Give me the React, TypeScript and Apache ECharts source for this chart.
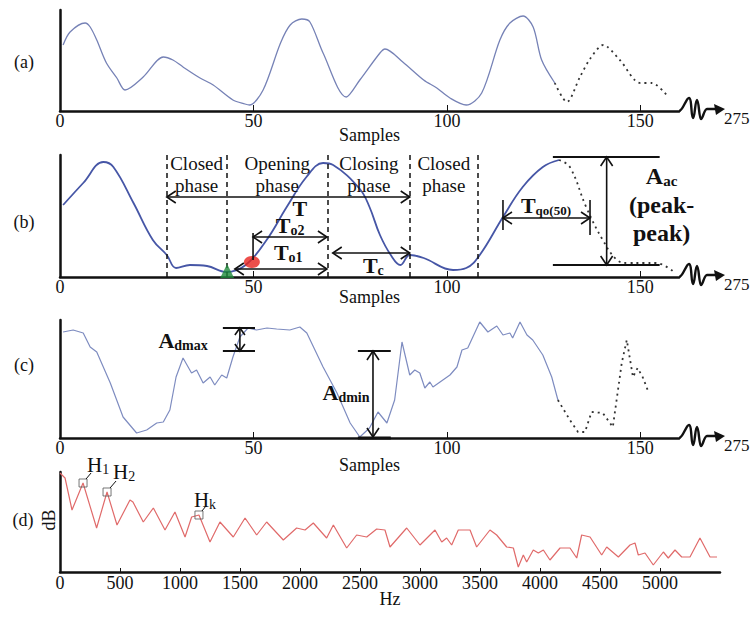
import React, { useEffect, useRef } from "react";
import * as echarts from "echarts";

const SERIF = "'Liberation Serif','Times New Roman',serif";
const INK = "#111";

// ---- Panel (a): speech waveform (samples, amplitude) ----
const aSolid: number[][] = [
  [0.8, 66], [2.6, 79], [6.5, 88], [7.8, 84], [9.5, 71], [12, 48], [14.7, 33], [16.8, 21],
  [21.5, 34], [26.7, 54], [29.2, 51], [31.8, 44], [36.2, 33], [39.6, 26], [44.7, 11], [47.8, 7],
  [49, 6], [52.5, 21], [57, 68], [59.5, 86], [62.5, 92], [64.6, 89], [68, 58], [74, 14],
  [77.5, 31], [82.7, 58], [84, 62], [88.6, 49], [94, 31], [97.4, 23], [100.8, 13], [105, 6],
  [109, 18], [113.7, 71], [116.3, 88], [119.7, 95], [122.3, 84], [124.5, 51], [127.9, 28],
];
const aDotted: number[][] = [
  [127.9, 28], [131, 9], [134.4, 34], [137, 52], [140.4, 66], [144.7, 51], [150, 28], [153, 28], [156.8, 16],
];

// ---- Panel (b): glottal flow ----
const bSolid: number[][] = [
  [0.8, 72], [6, 94], [11.2, 115], [13.8, 110], [19, 74], [24, 37], [27.6, 22], [30, 9],
  [33.6, 12], [38, 11], [43, 5], [48, 12], [53.4, 37], [58.6, 70], [63.7, 100], [68, 114],
  [70.6, 112], [77.5, 88], [80, 70], [82.7, 42], [85.5, 22], [88, 12], [90.4, 22], [94, 19],
  [101.6, 7], [105, 9], [108.5, 22], [114.5, 60], [119.6, 90], [124.8, 110], [129, 117],
];
const bDotted: number[][] = [
  [129, 117], [131.8, 110], [136, 70], [140.3, 37], [144, 17], [147, 14], [151, 14], [154, 14], [159, 4],
];
const phaseBoundaries = [27.6, 43, 69.3, 90.4, 108];
const phaseNames = ["Closed\nphase", "Opening\nphase", "Closing\nphase", "Closed\nphase"];
const openingOnset: number[][] = [[43.2, 6]];
const openingInstant: number[][] = [[49.6, 15]];

// ---- Panel (c): glottal flow derivative ----
const cSolid: number[][] = [
  [0.8, 106], [3.4, 108], [6, 105], [7.8, 91], [9.5, 86], [13, 55], [16.3, 21], [19.8, 5],
  [22.4, 8], [25, 15], [26.7, 16], [28.4, 28], [30, 61], [31.8, 80], [34, 65], [35.3, 68],
  [37, 55], [38.8, 61], [40, 53], [41.8, 63], [43.1, 60], [44.7, 81], [46.5, 101], [48.6, 110],
  [50.8, 108], [53.5, 110], [56, 109], [59.4, 108], [62, 111], [63.8, 105], [68, 71], [71.6, 45],
  [75, 15], [77.5, 1], [80, 10], [82.2, 26], [84.5, 15], [86.5, 38], [88.4, 96], [90.4, 63],
  [91.7, 68], [93, 65], [94.3, 50], [95.6, 56], [96.4, 51], [100.8, 63], [102.6, 71], [103.9, 88],
  [105.4, 90], [108.5, 116], [110.6, 106], [112.9, 112], [114.5, 103], [116.3, 105], [117, 100],
  [118.9, 116], [120.7, 103], [122.2, 98], [124.8, 83], [127.1, 61], [128.7, 38],
];
const cDotted: number[][] = [
  [128.7, 38], [131.8, 18], [133.9, 6], [135.7, 6], [137.4, 26], [140.3, 25], [142.9, 11],
  [145.2, 75], [146.5, 98], [148.1, 61], [149.3, 70], [150.6, 61], [151.9, 48],
];

// ---- Panel (d): spectrum (Hz, dB) ----
const dSpectrum: number[][] = [
  [0, 99], [42, 94], [100, 62], [192, 89], [305, 44], [392, 80], [475, 47], [583, 72], [608, 70],
  [694, 50], [778, 64], [875, 42], [958, 60], [1042, 35], [1097, 55], [1158, 57], [1250, 30],
  [1333, 50], [1444, 35], [1542, 54], [1639, 37], [1722, 50], [1861, 32], [1972, 44], [2042, 42],
  [2111, 49], [2222, 34], [2278, 47], [2389, 24], [2472, 37], [2556, 35], [2639, 43], [2708, 42],
  [2750, 25], [2889, 44], [3000, 27], [3125, 42], [3181, 30], [3222, 34], [3264, 27], [3319, 42],
  [3417, 42], [3472, 25], [3583, 42], [3639, 37], [3722, 25], [3778, 24], [3819, 5], [3861, 17],
  [3889, 10], [3944, 22], [3986, 19], [4028, 22], [4083, 12], [4167, 24], [4250, 24], [4306, 14],
  [4347, 37], [4417, 35], [4514, 17], [4556, 25], [4653, 15], [4750, 27], [4792, 29], [4819, 17],
  [4875, 19], [4944, 7], [5028, 20], [5069, 14], [5125, 22], [5181, 15], [5250, 15], [5333, 34],
  [5417, 15], [5475, 15],
];
const harmonicPeaks: number[][] = [[192, 89], [392, 80], [1158, 57]];
const harmonicNames = ["1", "2", "k"];

const sampleLabels = [0, 50, 100, 150];
const sampleTicks = [50, 100, 150];
const hzLabels = [0, 500, 1000, 1500, 2000, 2500, 3000, 3500, 4000, 4500, 5000];

echarts.graphic.registerShape(
  "squiggle",
  echarts.graphic.extendPath(
    "M0,0 C4,0 7,-13 10,-13 C13,-13 12,7 14,7 C16,7 16,-11 18,-11 C20,-11 20,8 22,8 C24,8 25,-2 28,-2 L37,-2",
    {}
  )
);

function seg(p1: number[], p2: number[], w = 1.6): any {
  return { type: "line", silent: true, z: 50, shape: { x1: p1[0], y1: p1[1], x2: p2[0], y2: p2[1] }, style: { stroke: INK, lineWidth: w } };
}
function head(tip: number[], from: number[], len = 9, half = 6, w = 1.6): any {
  const dx = tip[0] - from[0], dy = tip[1] - from[1];
  const L = Math.hypot(dx, dy) || 1;
  const ux = dx / L, uy = dy / L;
  const bx = tip[0] - ux * len, by = tip[1] - uy * len;
  const nx = -uy, ny = ux;
  return {
    type: "polyline", silent: true, z: 50,
    shape: { points: [[bx + nx * half, by + ny * half], [tip[0], tip[1]], [bx - nx * half, by - ny * half]] },
    style: { stroke: INK, lineWidth: w, fill: "none" },
  };
}
function dbl(p1: number[], p2: number[], len = 9, half = 6): any[] {
  return [seg(p1, p2), head(p2, p1, len, half), head(p1, p2, len, half)];
}
function txt(x: number, y: number, text: string, extra: any = {}): any {
  const align = extra.align || "center";
  return {
    type: "text", silent: true, z: 60, x, y,
    rotation: extra.rotation || 0,
    style: {
      text, fill: INK, fontFamily: SERIF, fontSize: extra.fontSize || 18,
      fontWeight: extra.fontWeight || "normal", lineHeight: extra.lineHeight,
      align, textAlign: align, verticalAlign: "middle", textVerticalAlign: "middle",
      rich: extra.rich,
    },
  };
}
function subRich(big: number, small: number, bold: boolean, drop: number) {
  const fw = bold ? "bold" : "normal";
  return {
    m: { fontSize: big, fontWeight: fw, fontFamily: SERIF, lineHeight: big + 4, fill: INK, color: INK },
    s: { fontSize: small, fontWeight: fw, fontFamily: SERIF, lineHeight: small, padding: [drop * 2, 0, 0, 0], fill: INK, color: INK },
  };
}
function subTxt(x: number, y: number, main: string, sub: string, big: number, small: number, bold: boolean, drop: number, align = "center"): any {
  return txt(x, y, `{m|${main}}{s|${sub}}`, { rich: subRich(big, small, bold, drop), align });
}

const xSampleAxis = (gridIndex: number, gap: number): any => ({
  type: "value", gridIndex, min: 0, max: 160, interval: 50,
  name: "Samples", nameLocation: "middle", nameGap: gap, nameMoveOverlap: false,
  nameTextStyle: { fontFamily: SERIF, fontSize: 18, color: INK },
  axisLine: { show: true, onZero: false, lineStyle: { color: INK, width: 2.5 } },
  axisTick: { show: true, inside: true, length: 6, customValues: sampleTicks, lineStyle: { color: INK, width: 1 } },
  axisLabel: {
    customValues: sampleLabels, margin: 1, fontFamily: SERIF, fontSize: 18, color: INK,
    formatter: (v: number) => (v % 50 === 0 ? String(v) : ""),
  },
  splitLine: { show: false },
});
const yPlainAxis = (gridIndex: number, max: number): any => ({
  type: "value", gridIndex, min: 0, max,
  axisLine: { show: true, lineStyle: { color: INK, width: 2.5 } },
  axisTick: { show: false }, axisLabel: { show: false }, splitLine: { show: false },
});

const solid = (xi: number, data: number[][], color: string, width: number, smooth: number | boolean): any => ({
  type: "line", xAxisIndex: xi, yAxisIndex: xi, data, smooth, showSymbol: false, silent: true,
  lineStyle: { color, width },
});
const dotted = (xi: number, data: number[][], smooth: number | boolean): any => ({
  type: "line", xAxisIndex: xi, yAxisIndex: xi, data, smooth, showSymbol: false, silent: true,
  lineStyle: { color: "#333", width: 1.8, type: [2, 4] },
});

export default function App() {
  const ref = useRef<HTMLDivElement>(null);
  useEffect(() => {
    document.body.style.margin = "0";
    const chart = echarts.init(ref.current!, null, { renderer: "svg" });
    const gridBase = { containLabel: false, outerBoundsMode: "none" };
    const bBase = solid(1, bSolid, "#4656a6", 1.8, 0.4);
    bBase.markLine = {
      silent: true, symbol: "none", animation: false,
      label: { show: false },
      lineStyle: { color: INK, width: 1.5, type: [5, 4] },
      data: phaseBoundaries.map((x) => ({ xAxis: x })),
    };
    chart.setOption({
      animation: false,
      grid: [
        { ...gridBase, left: 60, top: 10, width: 619, height: 101 },
        { ...gridBase, left: 60, top: 155, width: 619, height: 122 },
        { ...gridBase, left: 60, top: 320, width: 619, height: 118 },
        { ...gridBase, left: 60, top: 472, width: 660, height: 100 },
      ],
      xAxis: [
        xSampleAxis(0, 15),
        xSampleAxis(1, 11),
        xSampleAxis(2, 18),
        {
          type: "value", gridIndex: 3, min: 0, max: 5500, interval: 500,
          name: "Hz", nameLocation: "middle", nameGap: 18, nameMoveOverlap: false,
          nameTextStyle: { fontFamily: SERIF, fontSize: 18, color: INK },
          axisLine: { show: true, onZero: false, lineStyle: { color: INK, width: 2.5 } },
          axisTick: { show: true, inside: true, length: 4, customValues: hzLabels, lineStyle: { color: INK, width: 1 } },
          axisLabel: {
            customValues: hzLabels, margin: 2, fontFamily: SERIF, fontSize: 18, color: INK,
            formatter: (v: number) => (v <= 5000 ? String(v) : ""),
          },
          splitLine: { show: false },
        },
      ],
      yAxis: [yPlainAxis(0, 101), yPlainAxis(1, 122), yPlainAxis(2, 118), yPlainAxis(3, 100)],
      series: [
        solid(0, aSolid, "#7682b6", 1.3, 0.3),
        dotted(0, aDotted, 0.3),
        bBase,
        dotted(1, bDotted, 0.4),
        {
          type: "scatter", xAxisIndex: 1, yAxisIndex: 1, data: openingOnset, symbol: "triangle",
          symbolSize: 14, itemStyle: { color: "#1e8a3a" }, silent: true, z: 5,
        },
        {
          type: "scatter", xAxisIndex: 1, yAxisIndex: 1, data: openingInstant, symbol: "circle",
          symbolSize: [16, 12], itemStyle: { color: "#e8231e" }, silent: true, z: 5,
        },
        solid(2, cSolid, "#7e8cc0", 1.2, false),
        dotted(2, cDotted, false),
        solid(3, dSpectrum, "#e06a6a", 1.2, false),
        {
          type: "scatter", xAxisIndex: 3, yAxisIndex: 3, data: harmonicPeaks, symbol: "rect",
          symbolSize: 8, itemStyle: { color: "rgba(0,0,0,0)", borderColor: "#555", borderWidth: 1 }, silent: true, z: 5,
        },
      ],
    });

    const P = (g: number, x: number, y: number) => chart.convertToPixel({ gridIndex: g } as any, [x, y]) as number[];
    const els: any[] = [];

    // panel letters
    els.push(txt(24, 62, "(a)"), txt(24, 222, "(b)"), txt(24, 365, "(c)"), txt(23, 520, "(d)"));
    els.push(txt(49, 520, "dB", { rotation: Math.PI / 2 }));

    // axis-break squiggles and "275"
    [0, 1, 2].forEach((g) => {
      const o = P(g, 160, 0);
      els.push({ type: "squiggle", silent: true, z: 50, x: o[0], y: o[1], style: { fill: "none", stroke: INK, lineWidth: 2.4 } });
      els.push({
        type: "polygon", silent: true, z: 50,
        shape: { points: [[o[0] + 35, o[1] - 7], [o[0] + 46, o[1] - 2], [o[0] + 37, o[1] + 4]] },
        style: { fill: INK },
      });
      els.push(txt(o[0] + 45, o[1] + 7, "275", { align: "left", fontSize: 17 }));
    });

    // panel (b) phase labels
    phaseNames.forEach((name, i) => {
      const cx = (phaseBoundaries[i] + phaseBoundaries[i + 1]) / 2;
      const p = P(1, cx, 103);
      els.push(txt(p[0], p[1], name, { fontSize: 19, lineHeight: 22 }));
    });
    // T
    els.push(...dbl(P(1, 27.6, 80), P(1, 90.4, 80)));
    const pT = P(1, 62, 69);
    els.push(txt(pT[0], pT[1], "T", { fontSize: 22, fontWeight: "bold" }));
    // To2
    els.push(...dbl(P(1, 49.9, 40), P(1, 69, 40)));
    els.push(seg(P(1, 49.9, 44), P(1, 49.9, 17)));
    const pTo2 = P(1, 59.5, 52);
    els.push(subTxt(pTo2[0], pTo2[1], "T", "o2", 22, 14, true, 5));
    // To1
    els.push(...dbl(P(1, 45.2, 8), P(1, 69, 8)));
    const pTo1 = P(1, 59, 25);
    els.push(subTxt(pTo1[0], pTo1[1], "T", "o1", 22, 14, true, 5));
    // Tc
    els.push(...dbl(P(1, 70.5, 24), P(1, 90.4, 24)));
    const pTc = P(1, 81, 12);
    els.push(subTxt(pTc[0], pTc[1], "T", "c", 22, 14, true, 5));
    // Tqo(50)
    els.push(...dbl(P(1, 114.5, 59), P(1, 137, 59)));
    els.push(seg(P(1, 114.5, 77), P(1, 114.5, 47)));
    els.push(seg(P(1, 137, 77), P(1, 137, 42)));
    const pTq = P(1, 125.6, 72);
    els.push(subTxt(pTq[0], pTq[1], "T", "qo(50)", 22, 13, true, 5));
    // Aac
    els.push(seg(P(1, 127.4, 120), P(1, 155, 120), 1.8));
    els.push(seg(P(1, 127.4, 12), P(1, 155, 12), 1.8));
    els.push(...dbl(P(1, 141.3, 120), P(1, 141.3, 12)));
    const pA1 = P(1, 155.5, 101);
    els.push(subTxt(pA1[0], pA1[1], "A", "ac", 24, 15, true, 5));
    const pA2 = P(1, 155.5, 72);
    els.push(txt(pA2[0], pA2[1], "(peak-", { fontSize: 24, fontWeight: "bold" }));
    const pA3 = P(1, 155.5, 44);
    els.push(txt(pA3[0], pA3[1], "peak)", { fontSize: 24, fontWeight: "bold" }));

    // panel (c) Admax
    els.push(seg(P(2, 42.1, 110), P(2, 50.4, 110), 1.8));
    els.push(seg(P(2, 42.1, 87), P(2, 50.4, 87), 1.8));
    els.push(...dbl(P(2, 46.5, 110), P(2, 46.5, 87), 7, 5));
    const pDm = P(2, 38.2, 98);
    els.push(subTxt(pDm[0], pDm[1], "A", "dmax", 22, 14, true, 5, "right"));
    // Admin
    els.push(seg(P(2, 77, 87), P(2, 85.5, 87), 1.8));
    els.push(seg(P(2, 77, 0), P(2, 85.5, 0), 3));
    els.push(...dbl(P(2, 80.9, 87), P(2, 80.9, 1)));
    const pDn = P(2, 80, 46);
    els.push(subTxt(pDn[0], pDn[1], "A", "dmin", 22, 14, true, 5, "right"));

    // panel (d) harmonic labels
    const hOff = [[4, -18], [6, -20], [-5, -15]];
    const leader = [[[3, -4], [8, -10]], [[3, -4], [9, -11]], [[3, -4], [7, -9]]];
    harmonicPeaks.forEach((hp, i) => {
      const p = P(3, hp[0], hp[1]);
      els.push(seg([p[0] + leader[i][0][0], p[1] + leader[i][0][1]], [p[0] + leader[i][1][0], p[1] + leader[i][1][1]], 1));
      els.push(subTxt(p[0] + hOff[i][0], p[1] + hOff[i][1], "H", harmonicNames[i], 21, 14, false, 4, "left"));
    });

    chart.setOption({ graphic: { elements: els } });
    return () => chart.dispose();
  }, []);
  return <div ref={ref} style={{ width: 756, height: 618 }} />;
}
